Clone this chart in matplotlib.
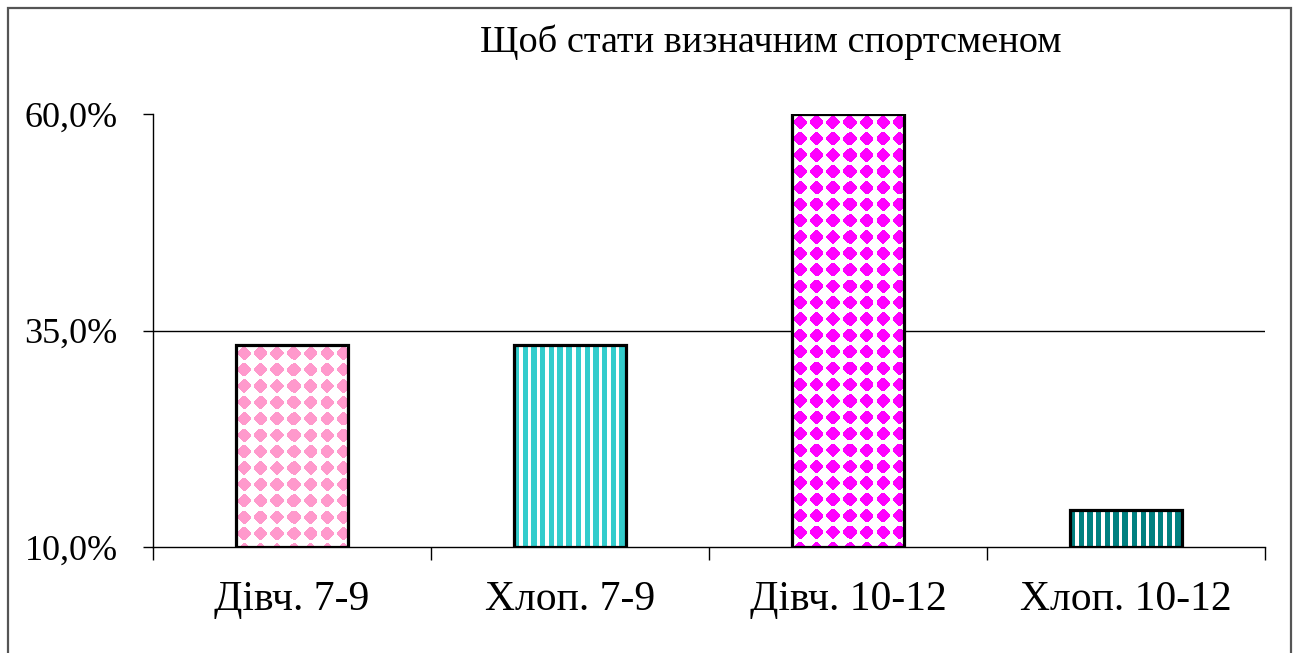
import numpy as np
import matplotlib
matplotlib.use('Agg')
import matplotlib.pyplot as plt
from matplotlib.patches import Rectangle

# data
categories = ['Дівч. 7-9', 'Хлоп. 7-9', 'Дівч. 10-12', 'Хлоп. 10-12']
values = [33.3, 33.3, 60.0, 14.3]
y_ticks = [10, 35, 60]
title = 'Щоб стати визначним спортсменом'

# (colour, pattern kind)
styles = [('#FF99CC', 'diamond'), ('#33CCCC', 'stripe'),
          ('#FF00FF', 'diamond'), ('#008080', 'stripe')]


def pattern_image(w, h, color, kind):
    """Build an RGB tile image of w x h pixels"""
    rgb = np.array(matplotlib.colors.to_rgb(color))
    yy, xx = np.mgrid[0:h, 0:w] + 0.5
    if kind == 'diamond':
        p = 16.4
        dx = np.abs((xx % p) - p / 2)
        dy = np.abs((yy % p) - p / 2)
        mask = ((dx + dy) <= 7.8) & (np.maximum(dx, dy) <= 6.6)
    else:
        p = 8.7
        mask = (xx % p) < 5.3
    img = np.ones((h, w, 3))
    img[mask] = rgb
    return img


plt.rcParams['font.family'] = ['Liberation Serif', 'DejaVu Serif']

W, H = 1299, 653
fig = plt.figure(figsize=(W / 100, H / 100), dpi=100)
ax = fig.add_axes([153 / W, 1 - 547 / H, (1265 - 153) / W, (547 - 114) / H])

x = np.arange(len(categories))
ax.set_xlim(-0.5, len(categories) - 0.5)
ax.set_ylim(y_ticks[0], y_ticks[-1])

bw = 0.4
bars = ax.bar(x, np.array(values) - y_ticks[0], bottom=y_ticks[0], width=bw,
              facecolor='none', edgecolor='black', linewidth=2.3, zorder=4)

for b, (col, kind) in zip(bars, styles):
    x0, y0 = b.get_x(), b.get_y()
    x1, y1 = x0 + b.get_width(), y0 + b.get_height()
    p0 = ax.transData.transform((x0, y0))
    p1 = ax.transData.transform((x1, y1))
    w = max(int(round(p1[0] - p0[0])), 1)
    h = max(int(round(p1[1] - p0[1])), 1)
    img = pattern_image(w, h, col, kind)
    im = ax.imshow(img, extent=(x0, x1, y0, y1), origin='upper', aspect='auto',
                   interpolation='nearest', zorder=3)
    im.set_clip_path(b)

ax.set_xlim(-0.5, len(categories) - 0.5)
ax.set_ylim(y_ticks[0], y_ticks[-1])

# gridline at the middle tick only
ax.axhline(y_ticks[1], color='black', linewidth=1.0, zorder=1)

ax.spines['top'].set_visible(False)
ax.spines['right'].set_visible(False)
ax.spines['left'].set_linewidth(1.0)
ax.spines['bottom'].set_linewidth(1.0)

ax.set_yticks(y_ticks)
ax.set_yticklabels([f'{t:.1f}%'.replace('.', ',') for t in y_ticks], fontsize=26)
ax.tick_params(axis='y', direction='out', length=7.5, width=1.0, pad=18)

ax.set_xticks(np.arange(len(categories) + 1) - 0.5)
ax.set_xticklabels([])
ax.tick_params(axis='x', which='major', direction='out', length=9, width=1.0)
ax.set_xticks(x, minor=True)
ax.set_xticklabels(categories, minor=True, fontsize=30)
ax.tick_params(axis='x', which='minor', length=0, pad=24)

fig.text(771 / W, 1 - 42 / H, title, ha='center', va='center', fontsize=27.5)

# outer chart border
fig.patches.append(Rectangle((7.5 / W, -0.05), (1291 - 7.5) / W, 0.05 + 1 - 8 / H,
                             transform=fig.transFigure, fill=False,
                             edgecolor='#555555', linewidth=1.6, clip_on=False))

fig.savefig('out.png', dpi=100, facecolor='white')
